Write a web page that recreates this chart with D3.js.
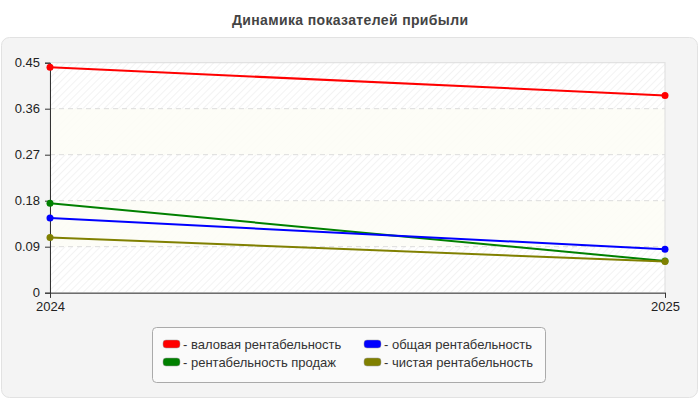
<!DOCTYPE html>
<html><head><meta charset="utf-8">
<script src="https://cdn.jsdelivr.net/npm/d3@7/dist/d3.min.js"></script>
<style>body{margin:0;background:#fff;font-family:Arial,"Liberation Sans",sans-serif}</style>
</head><body><svg id="c" width="700" height="400"></svg>
<script>
const years = ["2024", "2025"];
const seriesNames = ["- валовая рентабельность", "- общая рентабельность", "- рентабельность продаж", "- чистая рентабельность"];
const seriesColors = ["#ff0000", "#0000ff", "#008000", "#808000"];
const grossMargin = [0.441, 0.386];
const totalMargin = [0.146, 0.085];
const salesMargin = [0.175, 0.062];
const netMargin = [0.108, 0.061];
const yTicks = [0, 0.09, 0.18, 0.27, 0.36, 0.45];
const title = "Динамика показателей прибыли";

const allSeries = [grossMargin, totalMargin, salesMargin, netMargin];
const drawOrder = [0, 2, 1, 3];
const FONT = "Arial,'Liberation Sans',sans-serif";

const svg = d3.select("#c");
const defs = svg.append("defs");
const pat = defs.append("pattern").attr("id","hatch").attr("patternUnits","userSpaceOnUse")
  .attr("width",5).attr("height",5).attr("patternTransform","rotate(45)");
pat.append("rect").attr("width",5).attr("height",5).attr("fill","#ffffff");
pat.append("line").attr("x1",0).attr("y1",0).attr("x2",0).attr("y2",5).attr("stroke","#ececec").attr("stroke-width",1.2);

svg.append("rect").attr("x",0).attr("y",0).attr("width",700).attr("height",400).attr("fill","#fff");
svg.append("rect").attr("x",1.5).attr("y",37.5).attr("width",696).attr("height",360).attr("rx",8)
  .attr("fill","#f4f4f4").attr("stroke","#e2e2e2");

svg.append("text").attr("x",350).attr("y",25).attr("text-anchor","middle").attr("font-family",FONT)
  .attr("font-size",14).attr("font-weight","bold").attr("fill","#444")
  .attr("textLength",236).attr("lengthAdjust","spacing").text(title);

const m = {l:50, r:665, t:62.7, b:292.7};
const x = d3.scalePoint().domain(years).range([m.l, m.r]);
const y = d3.scaleLinear().domain([0,0.45]).range([m.b, m.t]);

svg.append("rect").attr("x",m.l).attr("y",m.t).attr("width",m.r-m.l).attr("height",m.b-m.t)
  .attr("fill","url(#hatch)");
const bands = d3.pairs(yTicks).filter((d,i)=>i%2===1);
svg.append("g").selectAll("rect").data(bands).join("rect")
  .attr("x",m.l).attr("width",m.r-m.l).attr("y",d=>y(d[1])).attr("height",d=>y(d[0])-y(d[1]))
  .attr("fill","#fdfdf6").attr("opacity",0.85);
svg.append("rect").attr("x",m.l).attr("y",m.t).attr("width",m.r-m.l).attr("height",m.b-m.t)
  .attr("fill","none").attr("stroke","#dddddd");

svg.append("g").selectAll("line").data(yTicks.filter(d=>d>0 && d<0.45)).join("line")
  .attr("x1",m.l).attr("x2",m.r).attr("y1",d=>y(d)).attr("y2",d=>y(d))
  .attr("stroke","#dcdcdc").attr("stroke-dasharray","5,4");

const yAxis = svg.append("g").attr("transform",`translate(${m.l},0)`)
  .call(d3.axisLeft(y).tickValues(yTicks).tickFormat(d=>d===0?"0":d3.format(".2f")(d)).tickSize(5).tickPadding(5));
yAxis.selectAll("text").attr("font-size",13).attr("fill","#222").attr("font-family",FONT);
yAxis.selectAll("line,path").attr("stroke","#333");

const xAxis = svg.append("g").attr("transform",`translate(0,${m.b})`)
  .call(d3.axisBottom(x).tickSize(5).tickPadding(4));
xAxis.selectAll("text").attr("font-size",13).attr("fill","#222").attr("font-family",FONT);
xAxis.selectAll("line,path").attr("stroke","#333");

const line = d3.line().x((d,i)=>x(years[i])).y(d=>y(d));
drawOrder.forEach(k=>{
  svg.append("path").datum(allSeries[k]).attr("d",line).attr("fill","none")
    .attr("stroke",seriesColors[k]).attr("stroke-width",2);
});
drawOrder.forEach(k=>{
  svg.append("g").selectAll("circle").data(allSeries[k]).join("circle")
    .attr("cx",(d,i)=>x(years[i])).attr("cy",d=>y(d)).attr("r",3.5).attr("fill",seriesColors[k]);
});

const lg = svg.append("g");
lg.append("rect").attr("x",152.5).attr("y",327.5).attr("width",393).attr("height",55).attr("rx",4)
  .attr("fill","#fafafa").attr("stroke","#aaaaaa");
const pos = [[163,340],[364,340],[163,358],[364,358]];
seriesNames.forEach((n,i)=>{
  const g = lg.append("g").attr("transform",`translate(${pos[i][0]},${pos[i][1]})`);
  g.append("rect").attr("x",0).attr("y",0).attr("width",17).attr("height",8).attr("rx",3)
    .attr("fill",seriesColors[i]).attr("stroke","#999").attr("stroke-width",0.5);
  g.append("text").attr("x",20).attr("y",8.5).attr("font-size",13).attr("font-family",FONT).attr("fill","#333").text(n);
});
</script></body></html>
